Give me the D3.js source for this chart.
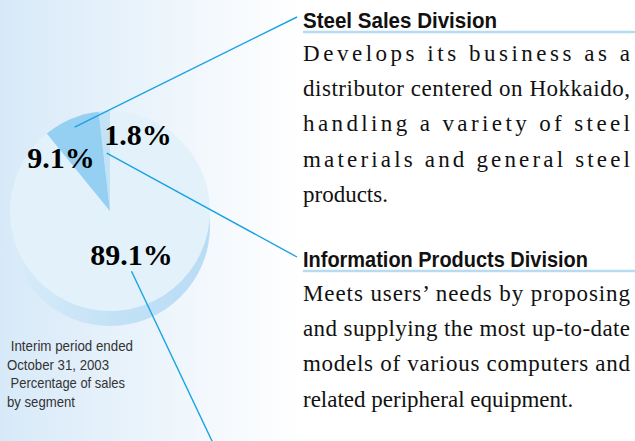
<!DOCTYPE html>
<html>
<head>
<meta charset="utf-8">
<script src="https://cdn.jsdelivr.net/npm/d3@7"></script>
<style>
  html, body { margin: 0; padding: 0; background: #fff; }
  svg { display: block; }
</style>
</head>
<body>
<div id="chart"></div>
<script>
////////////////////////////////////////////////
// data

var sliceValues = [89.1, 9.1, 1.8];
var sliceLabels = ["89.1%", "9.1%", "1.8%"];
var sliceColors = ["#e3f1fb", "#95cff2", "#c3e2f6"];

var caption = [" Interim period ended", "October 31, 2003", " Percentage of sales", "by segment"];

var steelTitle = "Steel Sales Division";
var steelLines = [
    "Develops its business as a",
    "distributor centered on Hokkaido,",
    "handling a variety of steel",
    "materials and general steel",
    "products."
];

var infoTitle = "Information Products Division";
var infoLines = [
    "Meets users\u2019 needs by proposing",
    "and supplying the most up-to-date",
    "models of various computers and",
    "related peripheral equipment."
];

////////////////////////////////////////////////
// layout

var w = 635, h = 441;
var cx = 110, cy = 211, r = 100, depth = 15;
var lineColor = "#1aa3e2";

var svg = d3.select("#chart").append("svg")
    .attr("width", w)
    .attr("height", h);

var defs = svg.append("defs");

var bg = defs.append("linearGradient")
    .attr("id", "bgGrad")
    .attr("gradientUnits", "userSpaceOnUse")
    .attr("x1", 0).attr("x2", 300).attr("y1", 0).attr("y2", 0);
bg.append("stop").attr("offset", 0).attr("stop-color", "#d7e9f8");
bg.append("stop").attr("offset", 1).attr("stop-color", "#ffffff");

var rim = defs.append("linearGradient")
    .attr("id", "rimGrad")
    .attr("x1", 0).attr("x2", 1).attr("y1", 0).attr("y2", 0);
rim.append("stop").attr("offset", 0).attr("stop-color", "#d9ecf9");
rim.append("stop").attr("offset", 0.55).attr("stop-color", "#c2e1f6");
rim.append("stop").attr("offset", 1).attr("stop-color", "#b9dcf5");

svg.append("rect")
    .attr("width", w).attr("height", h)
    .attr("fill", "url(#bgGrad)");

////////////////////////////////////////////////
// pie

var pie = d3.pie().sort(null).value(function(d){ return d; });
var arcs = pie(sliceValues);
var arc = d3.arc().innerRadius(0).outerRadius(r);

var g = svg.append("g").attr("transform", "translate(" + cx + "," + cy + ")");

g.append("circle")
    .attr("cx", 0).attr("cy", depth)
    .attr("r", r)
    .attr("fill", "url(#rimGrad)");

g.selectAll("path.slice")
    .data(arcs)
    .enter()
    .append("path")
    .attr("class", "slice")
    .attr("d", arc)
    .attr("fill", function(d,i){ return sliceColors[i]; });

// point inside a slice, at a fraction of the radius
function inside(d, frac){
    var a = (d.startAngle + d.endAngle) / 2;
    return [cx + Math.sin(a) * r * frac, cy - Math.cos(a) * r * frac];
}

// percent labels: [fraction of radius, dx, dy]
var labelPlace = [[0.55, 3, 2], [0.72, -21, 23], [0.72, 32, 6]];

svg.selectAll("text.pct")
    .data(arcs)
    .enter()
    .append("text")
    .attr("class", "pct")
    .attr("text-anchor", "middle")
    .attr("x", function(d,i){ return inside(d, labelPlace[i][0])[0] + labelPlace[i][1]; })
    .attr("y", function(d,i){ return inside(d, labelPlace[i][0])[1] + labelPlace[i][2]; })
    .attr("font-family", "'Liberation Serif','Times New Roman',serif")
    .attr("font-weight", "bold")
    .attr("font-size", 30)
    .attr("fill", "#000")
    .text(function(d,i){ return sliceLabels[i]; });

////////////////////////////////////////////////
// leader lines

var leaders = [
    { from: inside(arcs[1], 0.91), to: [297, 17] },
    { from: inside(arcs[2], 0.58), to: [297, 257] },
    { from: inside(arcs[0], 0.64), to: [221, 460] }
];

svg.selectAll("line.leader")
    .data(leaders)
    .enter()
    .append("line")
    .attr("class", "leader")
    .attr("x1", function(d){ return d.from[0]; })
    .attr("y1", function(d){ return d.from[1]; })
    .attr("x2", function(d){ return d.to[0]; })
    .attr("y2", function(d){ return d.to[1]; })
    .attr("stroke", lineColor)
    .attr("stroke-width", 1.4);

////////////////////////////////////////////////
// caption

var captionLen = [126, 102, 118, 68];

svg.selectAll("text.caption")
    .data(caption)
    .enter()
    .append("text")
    .attr("class", "caption")
    .attr("x", 7)
    .attr("y", function(d,i){ return 351 + i * 18.7; })
    .attr("font-family", "'Liberation Sans Narrow','Liberation Sans',Arial,sans-serif")
    .attr("font-size", 15)
    .attr("fill", "#333")
    .attr("xml:space", "preserve")
    .style("white-space", "pre")
    .attr("textLength", function(d,i){ return captionLen[i]; })
    .attr("lengthAdjust", "spacingAndGlyphs")
    .text(function(d){ return d; });

////////////////////////////////////////////////
// division blocks

var textLeft = 303, textRight = 630;

function block(title, titleLen, titleY, lines, firstY){
    svg.append("line")
        .attr("x1", textLeft).attr("x2", w)
        .attr("y1", titleY + 4).attr("y2", titleY + 4)
        .attr("stroke", "#b8dbf4")
        .attr("stroke-width", 2.5);

    svg.append("text")
        .attr("x", textLeft)
        .attr("y", titleY)
        .attr("font-family", "'Liberation Sans Narrow','Liberation Sans',Arial,sans-serif")
        .attr("font-weight", "bold")
        .attr("font-size", 22)
        .attr("fill", "#111")
        .attr("textLength", titleLen)
        .attr("lengthAdjust", "spacingAndGlyphs")
        .text(title);

    svg.selectAll(null)
        .data(lines)
        .enter()
        .append("text")
        .attr("x", textLeft)
        .attr("y", function(d,i){ return firstY + i * 35.2; })
        .attr("font-family", "'Liberation Serif','Times New Roman',serif")
        .attr("font-size", 23)
        .attr("fill", "#111")
        .text(function(d){ return d; })
        .each(function(d,i){
            // justify every line but the last
            if(i < lines.length - 1){
                d3.select(this)
                    .attr("textLength", textRight - textLeft)
                    .attr("lengthAdjust", "spacing");
            }
        });
}

block(steelTitle, 194, 28, steelLines, 61);
block(infoTitle, 285, 267, infoLines, 301);
</script>
</body>
</html>
